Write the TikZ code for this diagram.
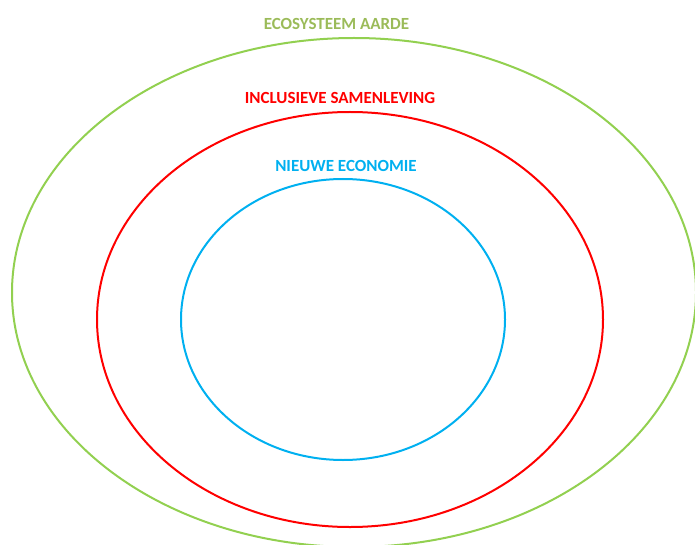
\documentclass[tikz,border=0pt]{standalone}
\usepackage{fontspec}
\setmainfont{Carlito}
\definecolor{c92d050}{RGB}{146,208,80}
\definecolor{c9bbb59}{RGB}{155,187,89}
\definecolor{cff0000}{RGB}{255,0,0}
\definecolor{c00b0f0}{RGB}{0,176,240}
\begin{document}
\begin{tikzpicture}[y=1pt, x=1pt, yscale=-1, inner sep=0pt, outer sep=0pt]
  \useasboundingbox (0,0) rectangle (695,545);
  % ellipses
  \path[draw=c92d050,line width=2pt] (354,292.5) ellipse (342 and 254.5);
  \path[draw=cff0000,line width=2pt] (350,319.5) ellipse (253 and 207.5);
  \path[draw=c00b0f0,line width=2pt] (343,319.5) ellipse (162 and 140.5);
  % labels
  \path (336.5,24) node[font=\fontsize{17}{19}\selectfont\bfseries,text=c9bbb59]
    (text-aarde) {ECOSYSTEEM AARDE};
  \path (340,97.5) node[font=\fontsize{17}{19}\selectfont\bfseries,text=cff0000]
    (text-samenleving) {INCLUSIEVE SAMENLEVING};
  \path (346,166) node[font=\fontsize{17}{19}\selectfont\bfseries,text=c00b0f0]
    (text-economie) {NIEUWE ECONOMIE};
\end{tikzpicture}
\end{document}
